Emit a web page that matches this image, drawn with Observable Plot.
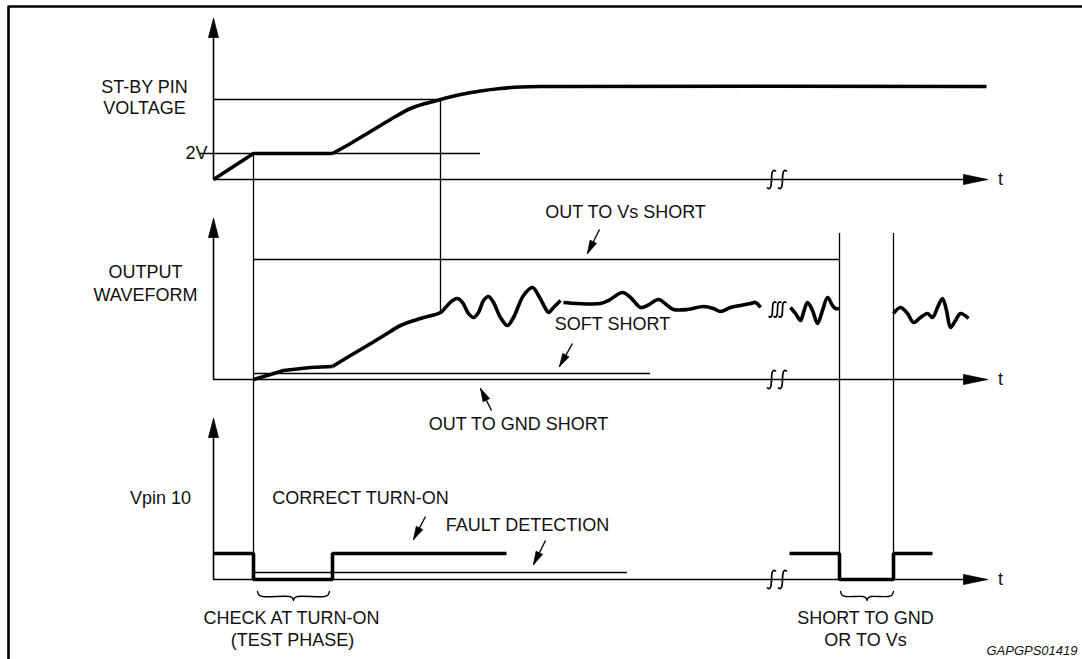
<!DOCTYPE html>
<html>
<head>
<meta charset="utf-8">
<script src="https://cdn.jsdelivr.net/npm/d3@7"></script>
<script src="https://cdn.jsdelivr.net/npm/@observablehq/plot@0.6"></script>
<style>
  html, body { margin: 0; padding: 0; background: #fff; }
  #chart svg { display: block; }
</style>
</head>
<body>
<div id="chart"></div>
<script>
// ---------- Data (time units on x, signal level units on y) ----------
// Each panel sits on its own baseline of the shared level axis
const panelNames = ["ST-BY PIN VOLTAGE", "OUTPUT WAVEFORM", "Vpin 10"];
const panelBase  = [400, 200, 0];

// ST-BY pin voltage: ramp to 2V, plateau, then rise to final level
const standbyRampT = [0, 40, 119];
const standbyRampV = [0, 26, 26];
const standbyRiseT = [119, 137, 157, 177, 197, 212, 227, 247, 267, 287, 307, 332, 773];
const standbyRiseV = [26, 36, 48, 60, 71, 76, 80, 85, 88.5, 91, 92.5, 93, 93];
const level2V = 26, levelRef = 80;

// Output waveform segments
const outRiseT = [40, 57, 70, 97, 119];
const outRiseV = [0, 5, 9, 12, 13];
const outWave1T = [119, 137, 154, 172, 187, 207, 227, 232, 239, 244, 249, 255, 260, 265, 270, 275, 280, 287, 294, 300, 310, 319, 325, 332, 335, 340, 347];
const outWave1V = [13, 24, 34, 45, 54, 61, 67, 72, 79, 81, 77, 66, 62, 67, 79, 83, 77, 62, 54, 62, 84, 92, 84, 71, 67, 72, 79];
const outWave2T = [350, 364, 387, 395, 409, 417, 427, 434, 445, 454, 460, 474, 490, 500, 507, 517, 527, 537, 542, 547];
const outWave2V = [77, 76, 76, 79, 87, 82, 72, 74, 80, 74, 70, 70, 73, 71, 68, 72, 74, 76, 77, 72];
const outWave3T = [577, 582, 587, 590, 594, 599, 604, 609, 614, 619, 622, 626];
const outWave3V = [72, 66, 59, 67, 77, 69, 56, 69, 82, 74, 71, 71];
const outWave4T = [680, 687, 694, 700, 707, 714, 719, 724, 729, 733, 737, 742, 747, 755];
const outWave4V = [66, 72, 66, 57, 62, 66, 62, 72, 81, 69, 52, 59, 66, 61];
const levelVsShort = 120, levelSoftShort = 6;

// Vpin 10 pulses
const vpinLeftT  = [0, 40, 40, 119, 119, 293];
const vpinLeftV  = [26, 26, 0, 0, 26, 26];
const vpinRightT = [576, 626, 626, 680, 680, 719];
const vpinRightV = [26, 26, 0, 0, 26, 26];
const levelFault = 7;

// Time markers
const tStart = 40, tRef = 227, tShortA = 626, tShortB = 680, tEnd = 774;
const breakT = [558, 569];
const waveBreakT = [559, 564, 569];

// ---------- Build tables ----------
const series = (ts, vs, base, id) => ts.map((t, i) => ({x: t, y: base + vs[i], id}));
const [bS, bO, bV] = panelBase;

const linearSig = [
  ...series(standbyRampT, standbyRampV, bS, "sr"),
  ...series(outRiseT, outRiseV, bO, "or"),
  ...series(vpinLeftT, vpinLeftV, bV, "vl"),
  ...series(vpinRightT, vpinRightV, bV, "vr")
];
const curvedSig = [
  ...series(standbyRiseT, standbyRiseV, bS, "sc"),
  ...series(outWave1T, outWave1V, bO, "w1"),
  ...series(outWave2T, outWave2V, bO, "w2"),
  ...series(outWave3T, outWave3V, bO, "w3"),
  ...series(outWave4T, outWave4V, bO, "w4")
];

function head(tail, tip, L, w, id) {
  const dx = tip[0] - tail[0], dy = tip[1] - tail[1], n = Math.hypot(dx, dy);
  const ux = dx / n, uy = dy / n, bx = tip[0] - L * ux, by = tip[1] - L * uy;
  return [
    {x: tip[0], y: tip[1], id},
    {x: bx + w * uy, y: by - w * ux, id},
    {x: bx - w * uy, y: by + w * ux, id},
    {x: tip[0], y: tip[1], id}
  ];
}

// annotation arrows [tail, tip]
const notes = [
  {tail: [386, 350], tip: [374, 326]},
  {tail: [359, 236], tip: [346, 213]},
  {tail: [278, 169], tip: [267, 191]},
  {tail: [212, 63],  tip: [200, 40]},
  {tail: [332, 39],  tip: [320, 15]}
];

let heads = [];
panelBase.forEach((b, i) => {
  heads = heads.concat(head([0, b + 120], [0, b + 161], 19, 5, "va" + i));
  heads = heads.concat(head([700, b], [tEnd, b], 24, 5, "ha" + i));
});
notes.forEach((n, i) => { heads = heads.concat(head(n.tail, n.tip, 13, 3.6, "n" + i)); });

const breakShape = [[0.45, 0.95], [0.22, 1.0], [0.06, 0.72], [0, 0], [-0.06, -0.72], [-0.22, -1.0], [-0.45, -0.95]];
let breaks = [];
panelBase.forEach((b, i) => breakT.forEach((t, j) => {
  breaks = breaks.concat(breakShape.map(([dx, dy]) => ({x: t + dx * 9, y: b + dy * 9, id: `b${i}${j}`})));
}));
waveBreakT.forEach((t, j) => {
  breaks = breaks.concat(breakShape.map(([dx, dy]) => ({x: t + dx * 7.5, y: bO + 70 + dy * 7.5, id: `wb${j}`})));
});

function brace(a, b, id) {
  const m = (a + b) / 2;
  return [[a, -12], [a + 1.5, -15.5], [a + 5, -17], [m - 4, -17], [m - 1, -18.5], [m, -21],
          [m + 1, -18.5], [m + 4, -17], [b - 5, -17], [b - 1.5, -15.5], [b, -12]]
    .map(([x, y]) => ({x, y: bV + y, id}));
}
const braces = [...brace(44, 116, "br1"), ...brace(627, 680, "br2")];

const frame = [
  {x: -205, y: -80, id: "f"}, {x: -205, y: 573, id: "f"}, {x: 869, y: 573, id: "f"}
];

const vGuides = [
  {x: tStart, y1: bS + level2V, y2: bV},
  {x: tRef, y1: bS + levelRef, y2: bO + 67},
  {x: tShortA, y1: bO + 146, y2: bV},
  {x: tShortB, y1: bO + 146, y2: bV}
];
const hGuides = [
  {y: bS + level2V, x1: -13, x2: 267},
  {y: bS + levelRef, x1: 0, x2: tRef},
  {y: bO + levelVsShort, x1: tStart, x2: tShortA},
  {y: bO + levelSoftShort, x1: tStart, x2: 437},
  {y: bV + levelFault, x1: tStart, x2: 414}
];

const labels = [
  {x: -69, y: 492.3, text: "ST-BY PIN", a: "middle"},
  {x: -69, y: 471.7, text: "VOLTAGE", a: "middle"},
  {x: -17, y: 426, text: "2V", a: "end"},
  {x: -68, y: 307.3, text: "OUTPUT", a: "middle"},
  {x: -68, y: 284, text: "WAVEFORM", a: "middle"},
  {x: -53, y: 81, text: "Vpin 10", a: "middle"},
  {x: 412, y: 367, text: "OUT TO Vs SHORT", a: "middle"},
  {x: 399, y: 255, text: "SOFT SHORT", a: "middle"},
  {x: 305, y: 155, text: "OUT TO GND SHORT", a: "middle"},
  {x: 147, y: 81, text: "CORRECT TURN-ON", a: "start"},
  {x: 314, y: 54, text: "FAULT DETECTION", a: "start"},
  {x: 78, y: -39, text: "CHECK AT TURN-ON", a: "middle"},
  {x: 79, y: -61, text: "(TEST PHASE)", a: "middle"},
  {x: 652, y: -39, text: "SHORT TO GND", a: "middle"},
  {x: 652, y: -61, text: "OR TO Vs", a: "middle"},
  ...panelBase.map(b => ({x: 787, y: b, text: "t", a: "middle"}))
];

const FONT = "'Liberation Sans', Arial, Helvetica, sans-serif";

const chart = Plot.plot({
  width: 1082,
  height: 659,
  margin: 0,
  style: {background: "#fff", fontFamily: FONT},
  x: {domain: [-213, 869], range: [0, 1082], axis: null},
  y: {domain: [-80, 579], range: [659, 0], axis: null},
  marks: [
    Plot.line(frame, {x: "x", y: "y", z: "id", stroke: "#000", strokeWidth: 2.6}),
    // axes
    Plot.ruleX(panelBase, {x: 0, y1: d => d, y2: d => d + 150, stroke: "#000", strokeWidth: 1.6}),
    Plot.ruleY(panelBase, {y: d => d, x1: 0, x2: 765, stroke: "#000", strokeWidth: 1.6}),
    // guide lines
    Plot.ruleX(vGuides, {x: "x", y1: "y1", y2: "y2", stroke: "#000", strokeWidth: 1.3}),
    Plot.ruleY(hGuides, {y: "y", x1: "x1", x2: "x2", stroke: "#000", strokeWidth: 1.3}),
    // annotation shafts
    Plot.link(notes, {x1: d => d.tail[0], y1: d => d.tail[1], x2: d => d.tip[0], y2: d => d.tip[1], stroke: "#000", strokeWidth: 1.4}),
    // signals
    Plot.line(linearSig, {x: "x", y: "y", z: "id", stroke: "#000", strokeWidth: 3.6, strokeLinejoin: "miter", strokeLinecap: "butt"}),
    Plot.line(curvedSig, {x: "x", y: "y", z: "id", curve: "catmull-rom", stroke: "#000", strokeWidth: 3.6, strokeLinecap: "butt"}),
    // arrowheads
    Plot.line(heads, {x: "x", y: "y", z: "id", fill: "#000", stroke: "#000", strokeWidth: 0.8}),
    // break marks
    Plot.line(breaks, {x: "x", y: "y", z: "id", curve: "catmull-rom", stroke: "#000", strokeWidth: 1.7}),
    // braces
    Plot.line(braces, {x: "x", y: "y", z: "id", curve: "catmull-rom", stroke: "#000", strokeWidth: 1.3}),
    // labels
    Plot.text(labels, {x: "x", y: "y", text: "text", textAnchor: "a", fontSize: 18, fontFamily: FONT, fill: "#111"}),
    Plot.text(["GAPGPS01419"], {x: 864, y: -71, text: d => d, textAnchor: "end", fontSize: 13, fontStyle: "italic", fontFamily: FONT, fill: "#111"})
  ]
});

document.getElementById("chart").append(chart);
</script>
</body>
</html>
